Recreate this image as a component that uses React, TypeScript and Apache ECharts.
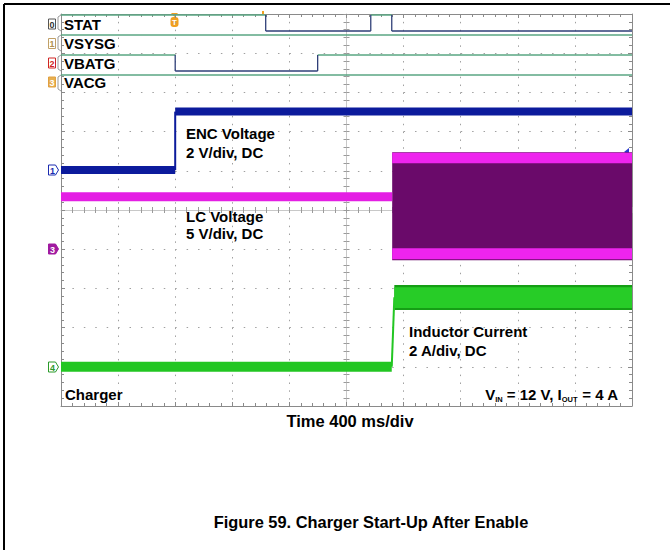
import React, { useEffect, useRef } from "react";
import * as echarts from "echarts";

const FONT = "'Liberation Sans', Arial, Helvetica, sans-serif";

// ---------------- Data (time in ms, 400 ms/div) ----------------
const timeMinMs = 0;
const timeMaxMs = 4000;
const msPerDiv = 400;

// digital channels: transition times and logic level for each interval
const digitalNames = ["STAT", "VSYSG", "VBATG", "VACG"];
const digitalIds = ["0", "1", "2", "3"];
const statTimes = [0, 1434, 2170, 2317, 4000];
const statLevels = [1, 0, 1, 0];
const vsysgTimes = [0, 4000];
const vsysgLevels = [1];
const vbatgTimes = [0, 800, 1798, 4000];
const vbatgLevels = [1, 0, 1];
const vacgTimes = [0, 4000];
const vacgLevels = [1];

// ENC voltage (CH1, volts)
const encTimes = [0, 800, 800, 4000];
const encVolts = [0, 0, 2.98, 2.98];

// LC voltage (CH3, volts)
const lcTimes = [0, 2320];
const lcVolts = [6.7, 6.7];
const lcSwitchSpan = [2320, 4000];
const lcSwitchRange = [-1.4, 12.37];
const lcSwitchTopBand = [10.95, 12.3];
const lcSwitchBottomBand = [-1.27, 0.13];

// Inductor current (CH4, amps)
const ilTimes = [0, 2317, 2335];
const ilAmps = [0, 0, 3.55];
const ilRippleSpan = [2335, 4000];
const ilRippleRange = [2.9, 4.17];
const ilRippleCore = [3.0, 4.06];

// ---------------- Channel scaling ----------------
const DIVS = 10;
const ch1Scale = { perDiv: 2, groundDiv: 6.02 };
const ch3Scale = { perDiv: 5, groundDiv: 4.0 };
const ch4Scale = { perDiv: 2, groundDiv: 1.0 };

const Y_CH1 = 4, Y_CH3 = 5, Y_CH4 = 6, Y_DIG = 7;

const GRID = { left: 61, top: 14, width: 571, height: 392 };
const BORDER = "#8a8a8a";
const DOT = "#a0a0a0";

function chanAxis(s: { perDiv: number; groundDiv: number }) {
  return {
    type: "value",
    show: false,
    min: -s.groundDiv * s.perDiv,
    max: (DIVS - s.groundDiv) * s.perDiv,
    axisLine: { onZero: false },
  };
}

function stepSegments(times: number[], values: number[]) {
  const levels: any[] = [];
  const edges: any[] = [];
  for (let i = 0; i < times.length - 1; i++) {
    const target = values[i] === values[i + 1] ? levels : edges;
    target.push([times[i], values[i]], [times[i + 1], values[i + 1]], [times[i + 1], "-"]);
  }
  return { levels, edges };
}

function digitalSeries(times: number[], levels: number[], lane: number) {
  const hi = lane + 0.05;
  const lo = lane + 0.85;
  const high: any[] = [];
  const low: any[] = [];
  const edge: any[] = [];
  for (let i = 0; i < levels.length; i++) {
    const y = levels[i] ? hi : lo;
    const target = levels[i] ? high : low;
    target.push([times[i], y], [times[i + 1], y], [times[i + 1], "-"]);
    if (i > 0) edge.push([times[i], hi], [times[i], lo], [times[i], "-"]);
  }
  const base = {
    type: "line",
    xAxisIndex: 0,
    yAxisIndex: Y_DIG,
    symbol: "none",
    silent: true,
    z: 3,
  };
  return [
    { ...base, data: high, lineStyle: { color: "#5aa683", width: 1.3 } },
    { ...base, data: low, lineStyle: { color: "#2f3f78", width: 1.3 } },
    { ...base, data: edge, lineStyle: { color: "#2f3f78", width: 1.3 } },
  ];
}

function lineSeries(data: any[], yAxisIndex: number, color: string, width: number, z = 4) {
  return {
    type: "line",
    xAxisIndex: 0,
    yAxisIndex,
    data,
    symbol: "none",
    silent: true,
    z,
    lineStyle: { color, width, cap: "butt" },
  };
}

function bandSeries(span: number[], range: number[], color: string, yAxisIndex: number, z: number) {
  return {
    type: "custom",
    xAxisIndex: 0,
    yAxisIndex,
    z,
    silent: true,
    data: [[span[0], span[1], range[0], range[1]]],
    encode: { x: [0, 1], y: [2, 3] },
    renderItem: (_p: any, api: any) => {
      const a = api.coord([api.value(0), api.value(3)]);
      const b = api.coord([api.value(1), api.value(2)]);
      return {
        type: "rect",
        shape: { x: a[0], y: a[1], width: b[0] - a[0], height: b[1] - a[1] },
        style: { fill: color },
      };
    },
  };
}

function txt(text: string, x: number, y: number, size = 15, align = "left", extra: any = {}) {
  return {
    type: "text",
    x,
    y,
    z: 100,
    style: {
      text,
      fill: "#000",
      fontSize: size,
      fontWeight: "bold",
      fontFamily: FONT,
      align,
      verticalAlign: "middle",
      ...extra,
    },
  };
}

function chMarker(label: string, yc: number, stroke: string, fill: string, textColor: string) {
  return {
    type: "group",
    z: 100,
    children: [
      {
        type: "polygon",
        shape: { points: [[48.5, yc - 5], [55.5, yc - 5], [58.5, yc], [55.5, yc + 5], [48.5, yc + 5]] },
        style: { fill, stroke, lineWidth: 1 },
      },
      {
        type: "text",
        x: 52.5,
        y: yc + 0.5,
        style: { text: label, fill: textColor, fontSize: 9, fontWeight: "bold", fontFamily: FONT, align: "center", verticalAlign: "middle" },
      },
    ],
  };
}

function digMarker(label: string, yc: number, hi: number, lo: number, stroke: string, fill: string, textColor: string) {
  return {
    type: "group",
    z: 100,
    children: [
      { type: "rect", shape: { x: 48.5, y: yc - 5, width: 7, height: 10 }, style: { fill, stroke, lineWidth: 1 } },
      {
        type: "text",
        x: 52,
        y: yc + 0.5,
        style: { text: label, fill: textColor, fontSize: 9, fontWeight: "bold", fontFamily: FONT, align: "center", verticalAlign: "middle" },
      },
      {
        type: "polyline",
        shape: { points: [[61, hi], [58, hi + 2], [58, lo - 2], [61, lo]] },
        style: { stroke: "#9a9a9a", lineWidth: 1, fill: null },
      },
    ],
  };
}

function buildOption() {
  const xBase = {
    type: "value",
    min: timeMinMs,
    max: timeMaxMs,
    interval: msPerDiv,
    axisLabel: { show: false },
  };
  const yBase = { type: "value", min: 0, max: DIVS, interval: 1, axisLabel: { show: false } };
  const borderLine = { show: true, onZero: false, lineStyle: { color: BORDER, width: 1 } };
  const tickIn = { show: true, inside: true, length: 4, lineStyle: { color: BORDER } };
  const minorIn = { show: true, splitNumber: 5, length: 3, lineStyle: { color: BORDER } };
  const cTick = { color: "#9a9a9a" };

  const xAxis = [
    {
      ...xBase,
      position: "bottom",
      axisLine: borderLine,
      axisTick: tickIn,
      minorTick: minorIn,
      splitLine: { show: true, lineStyle: { color: DOT, width: 1, type: [1.5, 6.34] } },
    },
    { ...xBase, position: "top", axisLine: borderLine, axisTick: tickIn, minorTick: minorIn, splitLine: { show: false } },
    {
      ...xBase,
      position: "bottom",
      offset: -GRID.height / 2,
      axisLine: { show: true, onZero: false, lineStyle: { color: "#c8c8c8", width: 1 } },
      axisTick: { show: true, inside: true, length: 3, lineStyle: cTick },
      minorTick: { show: true, splitNumber: 5, length: 3, lineStyle: cTick },
      splitLine: { show: false },
    },
    {
      ...xBase,
      position: "bottom",
      offset: -GRID.height / 2,
      axisLine: { show: false, onZero: false },
      axisTick: { show: true, inside: false, length: 3, lineStyle: cTick },
      minorTick: { show: true, splitNumber: 5, length: 3, lineStyle: cTick },
      splitLine: { show: false },
    },
  ];

  const yAxis = [
    {
      ...yBase,
      position: "left",
      axisLine: borderLine,
      axisTick: tickIn,
      minorTick: minorIn,
      splitLine: { show: true, lineStyle: { color: DOT, width: 1, type: [1.5, 9.92] } },
    },
    { ...yBase, position: "right", axisLine: borderLine, axisTick: tickIn, minorTick: minorIn, splitLine: { show: false } },
    {
      ...yBase,
      position: "left",
      offset: -GRID.width / 2,
      axisLine: { show: true, onZero: false, lineStyle: { color: "#c8c8c8", width: 1 } },
      axisTick: { show: true, inside: true, length: 3, lineStyle: cTick },
      minorTick: { show: true, splitNumber: 5, length: 3, lineStyle: cTick },
      splitLine: { show: false },
    },
    {
      ...yBase,
      position: "left",
      offset: -GRID.width / 2,
      axisLine: { show: false, onZero: false },
      axisTick: { show: true, inside: false, length: 3, lineStyle: cTick },
      minorTick: { show: true, splitNumber: 5, length: 3, lineStyle: cTick },
      splitLine: { show: false },
    },
    chanAxis(ch1Scale),
    chanAxis(ch3Scale),
    chanAxis(ch4Scale),
    { type: "value", show: false, inverse: true, min: 0, max: GRID.height / 20, axisLine: { onZero: false } },
  ];

  const series: any[] = [];
  const digital = [
    [statTimes, statLevels],
    [vsysgTimes, vsysgLevels],
    [vbatgTimes, vbatgLevels],
    [vacgTimes, vacgLevels],
  ];
  digital.forEach(([t, l], k) => series.push(...digitalSeries(t as number[], l as number[], k)));

  const enc = stepSegments(encTimes, encVolts);
  series.push(lineSeries(enc.levels, Y_CH1, "#0c1b9c", 8));
  series.push(lineSeries(enc.edges, Y_CH1, "#0c1b9c", 2));

  const lc = stepSegments(lcTimes, lcVolts);
  series.push(lineSeries(lc.levels, Y_CH3, "#e41ee4", 9));
  series.push(bandSeries(lcSwitchSpan, lcSwitchRange, "#6a0a6a", Y_CH3, 4));
  series.push(bandSeries(lcSwitchSpan, lcSwitchTopBand, "#ee24ee", Y_CH3, 5));
  series.push(bandSeries(lcSwitchSpan, lcSwitchBottomBand, "#ee24ee", Y_CH3, 5));

  const il = stepSegments(ilTimes, ilAmps);
  series.push(lineSeries(il.levels, Y_CH4, "#22c622", 10));
  series.push(lineSeries(il.edges, Y_CH4, "#22c622", 2));
  series.push(bandSeries(ilRippleSpan, ilRippleRange, "#159e15", Y_CH4, 4));
  series.push(bandSeries(ilRippleSpan, ilRippleCore, "#27cc27", Y_CH4, 5));

  const digColors = [
    { stroke: "#555555", fill: "#ffffff", text: "#333333" },
    { stroke: "#c0a068", fill: "#ffffff", text: "#b09050" },
    { stroke: "#d02424", fill: "#ffffff", text: "#d02424" },
    { stroke: "#e0a040", fill: "#e8b050", text: "#ffffff" },
  ];
  const labelY = [24, 43.5, 63, 82];

  const graphic: any[] = [
    { type: "line", z: 100, shape: { x1: 4, y1: 4, x2: 670, y2: 4 }, style: { stroke: "#000", lineWidth: 2 } },
    { type: "line", z: 100, shape: { x1: 4, y1: 4, x2: 4, y2: 550 }, style: { stroke: "#000", lineWidth: 2 } },
  ];
  digitalNames.forEach((name, k) => {
    const hi = GRID.top + 20 * (k + 0.05);
    const lo = GRID.top + 20 * (k + 0.85);
    const c = digColors[k];
    graphic.push(digMarker(digitalIds[k], labelY[k], hi, lo, c.stroke, c.fill, c.text));
    graphic.push(txt(name, 64, labelY[k], 15));
  });
  graphic.push(chMarker("1", 170, "#1a2ab0", "#ffffff", "#1a2ab0"));
  graphic.push(chMarker("3", 249, "#a01aa0", "#a01aa0", "#ffffff"));
  graphic.push(chMarker("4", 367, "#2a9a2a", "#ffffff", "#2a9a2a"));

  // trigger marker and small indicators
  graphic.push({
    type: "group",
    z: 101,
    children: [
      { type: "polygon", shape: { points: [[171, 13], [178, 13], [174.5, 17]] }, style: { fill: "#f0a020" } },
      { type: "rect", shape: { x: 170.5, y: 17, width: 8, height: 10, r: 3 }, style: { fill: "#f0a020" } },
      {
        type: "text",
        x: 174.5,
        y: 22,
        style: { text: "T", fill: "#fff", fontSize: 8, fontWeight: "bold", fontFamily: FONT, align: "center", verticalAlign: "middle" },
      },
      { type: "rect", shape: { x: 262, y: 11, width: 2, height: 3 }, style: { fill: "#f0a020" } },
      { type: "polygon", shape: { points: [[624, 152], [629, 148], [629, 155]] }, style: { fill: "#2a3ad0" } },
    ],
  });

  graphic.push(txt("ENC Voltage", 186, 133));
  graphic.push(txt("2 V/div, DC", 186, 152));
  graphic.push(txt("LC Voltage", 186, 216));
  graphic.push(txt("5 V/div, DC", 186, 233));
  graphic.push(txt("Inductor Current", 409, 331));
  graphic.push(txt("2 A/div, DC", 409, 350));
  graphic.push(txt("Charger", 65, 394));
  graphic.push({
    type: "text",
    x: 618,
    y: 394,
    z: 100,
    style: {
      text: "{a|V}{s|IN}{a| = 12 V, I}{s|OUT}{a| = 4 A}",
      align: "right",
      verticalAlign: "middle",
      rich: {
        a: { fontSize: 15, fontWeight: "bold", fontFamily: FONT, fill: "#000", lineHeight: 19 },
        s: { fontSize: 7.5, fontWeight: "bold", fontFamily: FONT, fill: "#000", lineHeight: 9, verticalAlign: "bottom" },
      },
    },
  });
  graphic.push(txt("Time 400 ms/div", 350, 421, 16.5, "center"));
  graphic.push(txt("Figure 59. Charger Start-Up After Enable", 371, 522, 16.4, "center"));

  return {
    animation: false,
    backgroundColor: "#ffffff",
    grid: { ...GRID, show: false, containLabel: false, outerBoundsMode: "none" },
    xAxis,
    yAxis,
    series,
    graphic,
  };
}

export default function App() {
  const ref = useRef<HTMLDivElement>(null);
  useEffect(() => {
    if (!ref.current) return;
    const chart = echarts.init(ref.current, null, { renderer: "svg" });
    chart.setOption(buildOption() as any);
    return () => chart.dispose();
  }, []);
  return (
    <div
      ref={ref}
      style={{ position: "fixed", left: 0, top: 0, width: 670, height: 550, background: "#fff" }}
    />
  );
}
